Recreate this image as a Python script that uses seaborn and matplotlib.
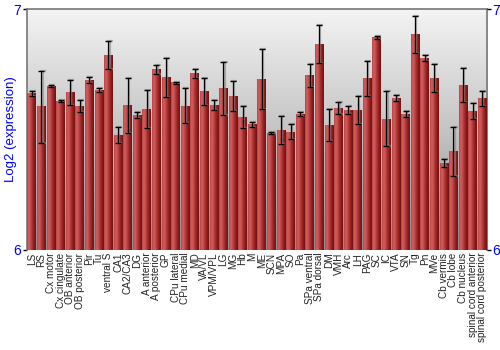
import numpy as np
import pandas as pd
import matplotlib
matplotlib.use("Agg")
import matplotlib.pyplot as plt
from matplotlib.colors import LinearSegmentedColormap
import seaborn as sns

regions = ["LS", "RS", "Cx motor", "Cx cingulate", "OB anterior", "OB posterior", "Pir", "Tu",
           "ventral S", "CA1", "CA2/CA3", "DG", "A anterior", "A posterior", "GP", "CPu lateral",
           "CPu medial", "MD", "VA/VL", "VPM/VPL", "LG", "MG", "Hb", "M", "ME", "SCN", "MPA", "SO",
           "Pa", "SPa ventral", "SPa dorsal", "DM", "VMH", "Arc", "LH", "PAG", "SC", "IC", "VTA",
           "SN", "Tg", "Pn", "MVe", "Cb vermis", "Cb lobe", "Cb nucleus",
           "spinal cord anterior", "spinal cord posterior"]
expression = [6.650, 6.595, 6.680, 6.618, 6.653, 6.598, 6.704, 6.664,
              6.809, 6.477, 6.600, 6.560, 6.584, 6.750, 6.717, 6.694,
              6.598, 6.734, 6.658, 6.600, 6.671, 6.639, 6.552, 6.522, 6.710, 6.485, 6.497, 6.490,
              6.563, 6.726, 6.855, 6.519, 6.589, 6.581, 6.581, 6.712, 6.882, 6.544, 6.631,
              6.563, 6.896, 6.797, 6.712, 6.361, 6.410, 6.685,
              6.575, 6.628]
error = [0.010, 0.150, 0.003, 0.003, 0.051, 0.026, 0.012, 0.009,
         0.057, 0.032, 0.113, 0.012, 0.079, 0.019, 0.081, 0.004,
         0.073, 0.019, 0.055, 0.021, 0.111, 0.061, 0.046, 0.010, 0.126, 0.003, 0.059, 0.031,
         0.008, 0.048, 0.077, 0.066, 0.026, 0.017, 0.060, 0.072, 0.008, 0.114, 0.012,
         0.012, 0.077, 0.014, 0.058, 0.018, 0.102, 0.069,
         0.033, 0.030]
y_ticks = [6, 7]

df = pd.DataFrame({"region": regions, "expr": expression, "err": error})

sns.set_theme(style="white")
plt.rcParams["font.family"] = ["Liberation Sans", "DejaVu Sans"]

fig = plt.figure(figsize=(5, 3.5), dpi=100)
ax = fig.add_axes([0.054, 0.286, 0.920, 0.688])

# background gradient
bg = np.linspace(0, 1, 256).reshape(-1, 1)
bg_cmap = LinearSegmentedColormap.from_list("bg", ["#f4f4f4", "#c4c4c4", "#8e8e8e"])
ax.imshow(bg, cmap=bg_cmap, aspect="auto", extent=[0, 1, 0, 1],
          transform=ax.transAxes, zorder=0)

sns.barplot(data=df, x="region", y="expr", color="#b03030", width=0.9,
            errorbar=None, ax=ax, zorder=2, linewidth=0)

ax.set_ylim(6, 7)
ax.set_xlim(-0.5, len(regions) - 0.5)

bar_cmap = LinearSegmentedColormap.from_list(
    "bar", ["#b84444", "#d06060", "#c54a4a", "#a82e2e", "#8a1c1c", "#741212"])
grad = np.linspace(0, 1, 64).reshape(1, -1)
for p in ax.patches:
    x0 = p.get_x()
    w = p.get_width()
    h = p.get_height()
    ax.imshow(grad, cmap=bar_cmap, aspect="auto", extent=[x0, x0 + w, 6, h],
              zorder=3)
ax.set_xlim(-0.5, len(regions) - 0.5)
ax.set_ylim(6, 7)

xs = np.arange(len(regions))
ax.errorbar(xs + 0.12, df["expr"], yerr=df["err"], fmt="none", ecolor="#888888",
            elinewidth=1.6, capsize=2.2, capthick=1.6, alpha=0.6, zorder=4)
ax.errorbar(xs, df["expr"], yerr=df["err"], fmt="none", ecolor="black",
            elinewidth=0.9, capsize=2.2, capthick=1.0, zorder=5)

ax.set_yticks(y_ticks)
ax.set_yticklabels([str(t) for t in y_ticks], color="#0000ff", fontsize=10)
ax.set_xticks(xs)
ax.set_xticklabels(regions, rotation=90, fontsize=7.2, color="#222222")
ax.tick_params(axis="x", length=0, pad=2)
ax.tick_params(axis="y", length=3, width=1, color="black", pad=1, left=True)
ax.set_xlabel("")
ax.set_ylabel("Log2 (expression)", color="#0000ff", fontsize=9.5)
ax.yaxis.set_label_coords(-0.021, 0.5)

for s in ["left", "top", "right"]:
    ax.spines[s].set_visible(True)
    ax.spines[s].set_color("#777777")
    ax.spines[s].set_linewidth(1.2)
ax.spines["bottom"].set_visible(False)

ax2 = ax.twinx()
ax2.set_ylim(6, 7)
ax2.set_yticks(y_ticks)
ax2.set_yticklabels([str(t) for t in y_ticks], color="#0000ff", fontsize=10)
ax2.tick_params(axis="y", length=3, width=1, color="black", pad=1, right=True)
for s in ax2.spines.values():
    s.set_visible(False)
ax2.grid(False)
ax.grid(False)

fig.savefig("out.png", dpi=100)
